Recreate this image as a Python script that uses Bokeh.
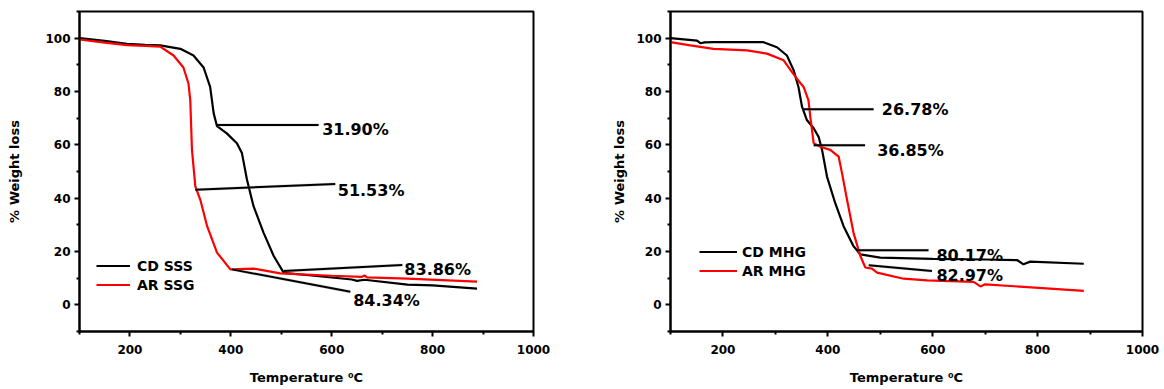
from bokeh.plotting import figure
from bokeh.layouts import row
from bokeh.models import FixedTicker, Legend, LegendItem, Range1d
from bokeh.core.properties import value
from bokeh.embed import file_html
from bokeh.resources import INLINE

FONT = "DejaVu Sans"

# ---------------- Left panel data (SSS / SSG) ----------------
cd_sss_t = [100, 150, 194, 230, 260, 300, 326, 346, 359, 366, 372.6, 392, 412, 422, 432, 445, 465, 485, 505, 560, 640, 650, 665, 750, 800, 888]
cd_sss_w = [100, 99, 97.9, 97.5, 97.3, 96, 93.5, 89, 81.7, 71.8, 67, 64.3, 60.6, 56.9, 46.9, 37, 27, 18.3, 12, 11, 9.5, 9.0, 9.4, 7.6, 7.3, 6.1]
ar_ssg_t = [100, 150, 194, 230, 260, 286.5, 306, 316, 319.6, 323, 329.6, 339.5, 353, 372.6, 399, 445, 498, 600, 660, 665, 670, 750, 888]
ar_ssg_w = [99.5, 98.3, 97.4, 97.1, 96.8, 93.5, 89, 83, 76.7, 58, 44.4, 39.4, 29.5, 19.6, 13.3, 13.6, 11.8, 10.9, 10.5, 11.0, 10.3, 9.8, 8.7]

# annotation connector lines and labels (left)
l_ann_x0 = [372.6, 329.6, 505, 402]
l_ann_y0 = [67.4, 43.2, 12.7, 13.3]
l_ann_x1 = [574, 607, 740, 637]
l_ann_y1 = [67.4, 45.3, 14.9, 4.9]
l_lab_x = [581, 612, 744, 642.5]
l_lab_y = [65.8, 42.9, 13.1, 1.75]
l_labels = ["31.90%", "51.53%", "83.86%", "84.34%"]

# ---------------- Right panel data (MHG) ----------------
cd_mhg_t = [100, 150.5, 157, 165, 182, 246, 277.5, 303, 322, 334.7, 344, 350.8, 360, 373, 382.4, 389, 398.4, 414, 430, 449, 462, 500, 600, 700, 760.7, 773, 786, 888]
cd_mhg_w = [100, 99.1, 98.1, 98.4, 98.5, 98.5, 98.5, 96.6, 93.5, 88, 81.7, 74.3, 69.3, 66.2, 63, 58.1, 48.1, 38.2, 29.5, 22, 18.9, 17.7, 17.2, 17.0, 16.8, 15.2, 16.2, 15.4]
ar_mhg_t = [100, 137.8, 182, 246, 284, 315.7, 331.7, 341, 353.8, 363, 366.6, 373, 385.7, 404.7, 420.6, 427, 436.6, 449, 462, 471.5, 484, 494, 544.5, 589, 678, 691, 700, 888]
ar_mhg_w = [98.5, 97.3, 96, 95.4, 94.2, 91.7, 87.3, 84.8, 81.7, 76.8, 70.5, 60.6, 59.3, 58.1, 55.6, 49.4, 39.4, 27, 18.3, 14, 13.6, 12.1, 9.8, 9.2, 8.6, 6.9, 7.7, 5.2]

r_ann_x0 = [353.8, 373, 455.6, 478]
r_ann_y0 = [73.3, 59.8, 20.5, 14.8]
r_ann_x1 = [487.3, 471, 592, 598.6]
r_ann_y1 = [73.3, 59.8, 20.5, 12.7]
r_lab_x = [503, 494, 607, 607]
r_lab_y = [73.3, 57.8, 18.5, 11.1]
r_labels = ["26.78%", "36.85%", "80.17%", "82.97%"]

x_major = [200, 400, 600, 800, 1000]
x_minor = [100, 300, 500, 700, 900]
y_major = [0, 20, 40, 60, 80, 100]
y_minor = [-10, 10, 30, 50, 70, 90, 110]


def make_panel(width, border_left, border_right, ytitle_standoff, series, names, ann, labels_pos, labels,
               legend_loc, glyph_w, standoff):
    p = figure(width=width, height=388, output_backend="svg", toolbar_location=None,
               x_range=Range1d(100, 1000), y_range=Range1d(-10, 110),
               min_border_left=border_left, min_border_right=border_right,
               min_border_top=11, min_border_bottom=57)
    p.grid.visible = False
    p.outline_line_color = "black"
    p.outline_line_width = 2
    p.background_fill_color = "white"
    p.border_fill_color = "white"

    for ax in (p.xaxis[0], p.yaxis[0]):
        ax.axis_line_width = 2
        ax.axis_line_color = "black"
        ax.major_tick_line_width = 2
        ax.minor_tick_line_width = 2
        ax.major_tick_line_color = "black"
        ax.minor_tick_line_color = "black"
        ax.major_tick_out = 5
        ax.major_tick_in = 0
        ax.minor_tick_out = 3
        ax.minor_tick_in = 0
        ax.major_label_text_font = FONT
        ax.major_label_text_font_style = "bold"
        ax.major_label_text_font_size = "12px"
        ax.major_label_text_color = "black"
        ax.axis_label_text_font = FONT
        ax.axis_label_text_font_style = "bold"
        ax.axis_label_text_font_size = "13px"
        ax.axis_label_text_color = "black"
    p.xaxis[0].ticker = FixedTicker(ticks=x_major, minor_ticks=x_minor)
    p.yaxis[0].ticker = FixedTicker(ticks=y_major, minor_ticks=y_minor)
    p.xaxis[0].axis_label = "Temperature \u2070C"
    p.yaxis[0].axis_label = "% Weight loss"
    p.xaxis[0].major_label_standoff = 8
    p.xaxis[0].axis_label_standoff = 13
    p.yaxis[0].major_label_standoff = 4
    p.yaxis[0].axis_label_standoff = ytitle_standoff

    items = []
    colors = ["black", "red"]
    for (t, w), name, c in zip(series, names, colors):
        r = p.line(t, w, line_color=c, line_width=2.2)
        items.append(LegendItem(label=name, renderers=[r]))

    x0, y0, x1, y1 = ann
    p.segment(x0, y0, x1, y1, line_color="#999999", line_width=3, line_alpha=0.4)
    p.segment(x0, y0, x1, y1, line_color="black", line_width=2)
    lx, ly = labels_pos
    p.text(lx, ly, text=labels, text_font=value(FONT), text_font_style="bold", text_font_size="16px",
           text_baseline="middle", text_align="left", text_color="black")

    leg = Legend(items=items, location=legend_loc, padding=0, margin=0, spacing=2,
                 glyph_width=glyph_w, glyph_height=17, label_height=17, label_standoff=standoff,
                 border_line_color=None, background_fill_alpha=0,
                 label_text_font=FONT, label_text_font_style="bold", label_text_font_size="14px",
                 label_text_color="black")
    p.add_layout(leg, "center")
    return p


left = make_panel(588, 79, 55, 20,
                  [(cd_sss_t, cd_sss_w), (ar_ssg_t, ar_ssg_w)], ["CD SSS", "AR SSG"],
                  (l_ann_x0, l_ann_y0, l_ann_x1, l_ann_y1), (l_lab_x, l_lab_y), l_labels,
                  (17, 38), 34, 7)
right = make_panel(572, 82, 18, 6,
                   [(cd_mhg_t, cd_mhg_w), (ar_mhg_t, ar_mhg_w)], ["CD MHG", "AR MHG"],
                   (r_ann_x0, r_ann_y0, r_ann_x1, r_ann_y1), (r_lab_x, r_lab_y), r_labels,
                   (29, 52), 38, 5)

layout = row(left, right)
open("out.html", "w").write(file_html(layout, INLINE))
